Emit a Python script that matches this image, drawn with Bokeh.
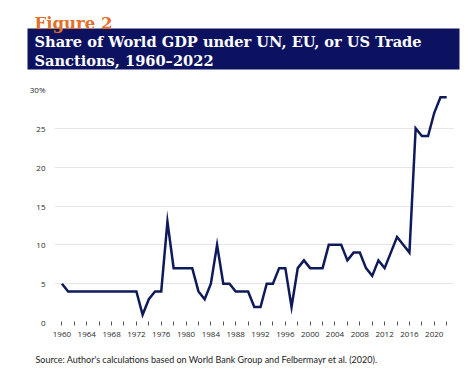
from bokeh.plotting import figure
from bokeh.layouts import column
from bokeh.models import ColumnDataSource, Label, BoxAnnotation, FixedTicker, Range1d
from bokeh.embed import file_html
from bokeh.resources import INLINE

years = list(range(1960, 2023))
share = [5, 4, 4, 4, 4, 4, 4, 4, 4, 4,
         4, 4, 4, 1, 3, 4, 4, 13, 7, 7,
         7, 7, 4, 3, 5, 10, 5, 5, 4, 4,
         4, 2, 2, 5, 5, 7, 7, 2, 7, 8,
         7, 7, 7, 10, 10, 10, 8, 9, 9, 7,
         6, 8, 7, 9, 11, 10, 9, 25, 24, 24,
         27, 29, 29]
y_ticks = [0, 5, 10, 15, 20, 25, 30]
y_labels = {30: "30%"}
x_label_years = list(range(1960, 2021, 4))
x_minor_years = list(range(1962, 2023, 4))

fig_title = "Figure 2"
title_line1 = "Share of World GDP under UN, EU, or US Trade"
title_line2 = "Sanctions, 1960\u20132022"
source_note = "Source: Author's calculations based on World Bank Group and Felbermayr et al. (2020)."

NAVY = "#0c1260"
LINE = "#0f1a5a"
ORANGE = "#e2702a"
SANS = "Open Sans"
SERIF = "DejaVu Serif"

W = 474
HEAD_H, MAIN_H, FOOT_H = 80, 270, 26
HEAD_SHIFT = 4  # measured offset of header frame


def blank(h):
    f = figure(width=W, height=h, output_backend="svg", toolbar_location=None,
               x_range=Range1d(0, 1), y_range=Range1d(0, 1),
               x_axis_location=None, y_axis_location=None, min_border=0)
    f.grid.visible = False
    f.outline_line_color = None
    f.background_fill_color = "white"
    f.border_fill_color = "white"
    f.frame_align = False
    return f


def hy(canvas_y):
    return HEAD_H - canvas_y + HEAD_SHIFT


# ---- header ----
head = blank(HEAD_H)
head.add_layout(BoxAnnotation(left=27, right=459, top=hy(32), bottom=hy(73),
                              left_units="screen", right_units="screen",
                              top_units="screen", bottom_units="screen",
                              fill_color=NAVY, fill_alpha=1, line_color=None, level="underlay"))
head.add_layout(Label(x=34, y=hy(27), x_units="screen", y_units="screen", text=fig_title,
                      text_font=SERIF, text_font_style="bold", text_font_size="16.5px",
                      text_color=ORANGE, text_baseline="alphabetic"))
head.add_layout(Label(x=34, y=hy(45), x_units="screen", y_units="screen", text=title_line1,
                      text_font=SERIF, text_font_style="bold", text_font_size="14.6px",
                      text_color="white", text_baseline="alphabetic"))
head.add_layout(Label(x=34, y=hy(64), x_units="screen", y_units="screen", text=title_line2,
                      text_font=SERIF, text_font_style="bold", text_font_size="14.6px",
                      text_color="white", text_baseline="alphabetic"))

# ---- main chart ----
src = ColumnDataSource(dict(year=years, share=share))
p = figure(width=W, height=MAIN_H, output_backend="svg", toolbar_location=None,
           x_range=Range1d(1958.8, 2023.1), y_range=Range1d(0, 30),
           min_border_left=54, min_border_right=21, min_border_top=9, min_border_bottom=28)
p.outline_line_color = None
p.background_fill_color = "white"
p.border_fill_color = "white"
p.frame_align = False

p.line("year", "share", source=src, line_color=LINE, line_width=2.5, line_join="miter")

p.yaxis.ticker = FixedTicker(ticks=y_ticks)
p.yaxis.major_label_overrides = y_labels
p.yaxis.axis_line_color = None
p.yaxis.major_tick_line_color = None
p.yaxis.minor_tick_line_color = None
p.yaxis.major_label_standoff = 3
p.yaxis.major_label_text_font = SANS
p.yaxis.major_label_text_font_size = "8px"
p.yaxis.major_label_text_color = "#2a2a2a"

p.ygrid.ticker = FixedTicker(ticks=y_ticks[1:])
p.ygrid.grid_line_color = "#e6e6e6"
p.ygrid.grid_line_width = 1
p.xgrid.grid_line_color = None

p.xaxis.ticker = FixedTicker(ticks=x_label_years, minor_ticks=x_minor_years)
p.xaxis.axis_line_color = None
p.xaxis.major_tick_line_color = "#555555"
p.xaxis.minor_tick_line_color = "#555555"
p.xaxis.major_tick_in = 1
p.xaxis.major_tick_out = 3
p.xaxis.minor_tick_in = 1
p.xaxis.minor_tick_out = 3
p.xaxis.major_label_standoff = 6
p.xaxis.major_label_text_font = SANS
p.xaxis.major_label_text_font_size = "8px"
p.xaxis.major_label_text_color = "#2a2a2a"

# ---- footer ----
foot = blank(FOOT_H)
foot.add_layout(Label(x=35, y=FOOT_H - 9, x_units="screen", y_units="screen", text=source_note,
                      text_font="Lato", text_font_size="9px",
                      text_color="#222222", text_baseline="middle"))

layout = column(head, p, foot, spacing=0)
open("out.html", "w").write(file_html(layout, INLINE))
